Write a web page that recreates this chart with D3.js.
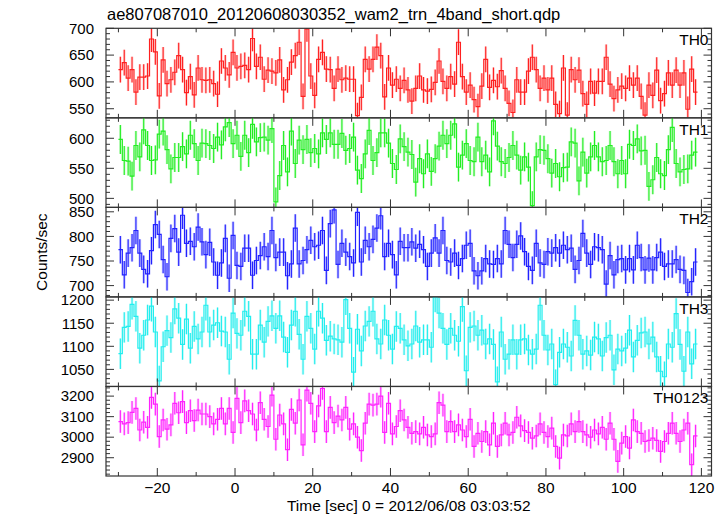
<!DOCTYPE html>
<html><head><meta charset="utf-8">
<script src="https://cdn.jsdelivr.net/npm/d3@7"></script>
<style>body{margin:0;background:#fff}svg{display:block}text{font-family:"Liberation Sans",Arial,sans-serif}</style>
</head><body>
<svg id="c" width="728" height="516"></svg>
<script>
const title = "ae807087010_20120608030352_wam2_trn_4band_short.qdp";
const xLabel = "Time [sec] 0 = 2012/06/08 03:03:52";
const yLabel = "Counts/sec";
const bandNames = ["TH0", "TH1", "TH2", "TH3", "TH0123"];
const bandColors = ["#ff2020", "#22ee22", "#2222ff", "#22eeee", "#ff22ff"];
const bandFill = ["#ff9a9a", "#9af79a", "#8a8aff", "#9af5f5", "#ff9aff"];
const binStart = -30;   // first bin start (s)
const binWidth = 1;     // s
const xTicks = [-20, 0, 20, 40, 60, 80, 100, 120];
const yDomains = [[533, 700], [485, 634], [677, 859], [1013, 1207], [2811, 3247]];
const yTicks = [[550, 600, 650, 700], [500, 550, 600], [700, 750, 800, 850], [1050, 1100, 1150, 1200], [2900, 3000, 3100, 3200]];
const yMinorStep = [10, 10, 10, 10, 20];
const errs = [24, 24, 28, 33, 55];

const th0 = [623,636,607,623,581,609,609,611,680,656,574,641,597,604,618,649,623,580,610,576,626,604,603,604,597,577,639,626,613,655,626,629,631,623,681,629,646,605,622,620,617,641,585,604,637,649,674,573,699,611,575,642,655,624,623,588,624,604,607,605,605,537,571,642,624,642,665,649,572,626,594,605,588,603,585,564,588,611,585,583,586,599,639,601,588,610,596,674,610,581,594,567,554,592,642,590,603,591,621,588,560,543,604,581,581,620,646,623,588,607,585,607,558,541,626,538,623,604,622,578,558,601,579,601,601,646,596,569,585,592,588,607,594,607,573,538,594,575,622,565,578,617,594,622,594,617,549,624,581];
const th1 = [598,563,562,537,588,569,614,588,563,564,607,612,581,549,568,568,586,574,605,591,563,592,591,588,583,602,589,619,626,591,605,570,605,576,623,594,601,602,597,616,494,538,588,544,612,558,597,581,598,576,583,574,609,598,609,590,590,608,580,583,602,547,533,574,613,563,576,609,609,592,558,548,599,586,577,573,527,566,541,574,545,566,587,605,591,605,624,552,572,591,563,561,602,561,572,544,629,587,561,558,568,588,572,547,569,552,488,569,581,580,566,542,558,536,551,552,594,592,529,577,542,569,588,569,561,563,588,561,541,563,541,590,588,599,579,580,520,531,568,541,538,581,618,558,544,548,549,572,577];
const th2 = [773,722,766,777,812,766,733,724,771,824,804,753,718,796,816,768,843,786,790,779,819,789,763,788,748,721,746,796,715,802,741,739,776,776,721,751,761,779,759,812,757,768,768,720,744,817,744,751,773,792,779,782,812,731,826,854,743,786,768,759,746,849,748,792,779,794,817,842,759,786,763,722,790,777,777,789,776,784,773,739,766,797,766,812,751,748,766,741,755,782,786,730,720,730,755,744,743,755,744,812,784,757,784,801,769,739,731,786,746,743,769,766,777,766,782,773,776,733,751,806,766,743,779,777,773,703,761,722,753,755,732,755,732,782,757,732,756,732,757,768,739,744,744,753,733,731,686,708,748];
const th3 = [1084,1141,1143,1191,1165,1096,1124,1157,1187,1131,1025,1099,1134,1119,1181,1161,1104,1159,1096,1143,1116,1131,1189,1131,1146,1151,1133,1131,1072,1172,1128,1124,1176,1165,1083,1083,1146,1109,1154,1166,1139,1166,1120,1087,1146,1176,1126,1072,1165,1139,1094,1176,1161,1113,1122,1116,1114,1109,1201,1139,1044,1137,1090,1144,1154,1176,1116,1105,1157,1124,1094,1143,1139,1114,1101,1105,1144,1109,1114,1114,1098,1207,1172,1139,1104,1139,1124,1111,1186,1047,1141,1144,1124,1135,1105,1116,1104,1023,1131,1072,1083,1114,1083,1114,1116,1092,1083,1094,1189,1124,1092,1105,1017,1087,1105,1098,1079,1156,1124,1083,1090,1081,1120,1116,1079,1119,1124,1049,1094,1090,1096,1135,1077,1113,1129,1131,1105,1120,1077,1046,1034,1105,1098,1171,1104,1046,1131,1062,1105];
const th0123 = [3076,3065,3071,3121,3140,3035,3073,3048,3194,3161,3003,3084,3039,3060,3165,3119,3173,3071,3129,3081,3132,3113,3113,3100,3065,3087,3140,3065,3140,3023,3189,3071,3177,3129,3113,3035,3168,3087,3052,3205,2990,3108,3065,2939,3135,3068,3181,2963,3229,3165,3027,3152,3237,3027,3145,3071,3103,3084,3145,3039,3065,3000,2935,3068,3161,3156,3161,3200,3023,3165,3016,3052,3129,3084,3048,3019,3027,3016,3048,3011,3003,3016,3168,3156,3027,3076,3027,3060,3035,3003,3087,2955,3019,2979,3027,2963,3068,2955,3011,3068,3011,3023,3097,3055,3032,3023,2995,3006,3065,3023,3003,3044,2955,2898,3011,3006,3065,3027,3076,3027,3011,3000,3035,3016,3048,2990,3068,2990,2882,2971,3003,2947,3084,3027,3019,2979,2984,2995,2984,2931,2979,3019,3068,3019,2979,3035,3068,2866,3006];
const series = [th0, th1, th2, th3, th0123];

const svg = d3.select("#c");
const left = 106, right = 711.5, top0 = 28.3, bottom = 476;
const ph = (bottom - top0) / 5;
const xs = d3.scaleLinear().domain([-33.2, 122.6]).range([left, right]);
const axisCol = "#333";
const fs = 15;

svg.append("text").attr("x", 107).attr("y", 20).attr("font-size", 16.5).attr("fill", "#000").text(title);

series.forEach((vals, p) => {
  const t = top0 + p * ph, b = t + ph;
  const ys = d3.scaleLinear().domain(yDomains[p]).range([b, t]);
  const g = svg.append("g");
  const clipId = "clip" + p;
  svg.append("clipPath").attr("id", clipId).append("rect").attr("x", left).attr("y", t).attr("width", right - left).attr("height", ph);
  const dg = g.append("g").attr("clip-path", `url(#${clipId})`);
  const data = vals.map((v, i) => ({ x0: binStart + i * binWidth, x1: binStart + (i + 1) * binWidth, v }));
  const e = errs[p];
  dg.selectAll("rect.eb").data(data).join("rect")
    .attr("x", d => xs(d.x0) + 0.6).attr("width", d => xs(d.x1) - xs(d.x0) - 1.2)
    .attr("y", d => ys(d.v + e)).attr("height", d => ys(d.v - e) - ys(d.v + e))
    .attr("fill", bandFill[p]).attr("opacity", 0.45);
  dg.selectAll("line.er").data(data).join("line")
    .attr("x1", d => xs((d.x0 + d.x1) / 2)).attr("x2", d => xs((d.x0 + d.x1) / 2))
    .attr("y1", d => ys(d.v + e)).attr("y2", d => ys(d.v - e))
    .attr("stroke", bandColors[p]).attr("stroke-width", 1.1);
  const pts = [];
  data.forEach(d => { pts.push([xs(d.x0), ys(d.v)]); pts.push([xs(d.x1), ys(d.v)]); });
  dg.append("path").attr("d", d3.line()(pts)).attr("fill", "none").attr("stroke", bandColors[p]).attr("stroke-width", 1.2);

  g.append("rect").attr("x", left).attr("y", t).attr("width", right - left).attr("height", ph)
    .attr("fill", "none").attr("stroke", axisCol).attr("stroke-width", 1.2);
  const [d0, d1] = yDomains[p];
  const minor = d3.range(Math.ceil(d0 / yMinorStep[p]) * yMinorStep[p], d1 + 0.01, yMinorStep[p]);
  minor.forEach(v => {
    const isMaj = yTicks[p].includes(v);
    const L = isMaj ? 8 : 4;
    g.append("line").attr("x1", left).attr("x2", left + L).attr("y1", ys(v)).attr("y2", ys(v)).attr("stroke", axisCol);
    g.append("line").attr("x1", right - L).attr("x2", right).attr("y1", ys(v)).attr("y2", ys(v)).attr("stroke", axisCol);
  });
  yTicks[p].forEach(v => {
    g.append("text").attr("x", 94).attr("y", ys(v) + 5.3).attr("text-anchor", "end").attr("font-size", fs).text(v);
  });
  d3.range(-30, 121, 10).forEach(v => {
    const isMaj = xTicks.includes(v);
    const L = isMaj ? 8 : 4;
    g.append("line").attr("x1", xs(v)).attr("x2", xs(v)).attr("y1", t).attr("y2", t + L).attr("stroke", axisCol);
    g.append("line").attr("x1", xs(v)).attr("x2", xs(v)).attr("y1", b - L).attr("y2", b).attr("stroke", axisCol);
  });
  g.append("text").attr("x", right - 3).attr("y", t + 17).attr("text-anchor", "end").attr("font-size", 15.5).text(bandNames[p]);
});

xTicks.forEach(v => {
  svg.append("text").attr("x", xs(v)).attr("y", 493).attr("text-anchor", "middle").attr("font-size", 15.5).text(v < 0 ? "\u2212" + Math.abs(v) : v);
});
svg.append("text").attr("x", (left + right) / 2).attr("y", 511).attr("text-anchor", "middle").attr("font-size", 15.5).text(xLabel);
svg.append("text").attr("transform", `translate(47,${(top0 + bottom) / 2}) rotate(-90)`).attr("text-anchor", "middle").attr("font-size", 15.5).text(yLabel);
</script>
</body></html>
